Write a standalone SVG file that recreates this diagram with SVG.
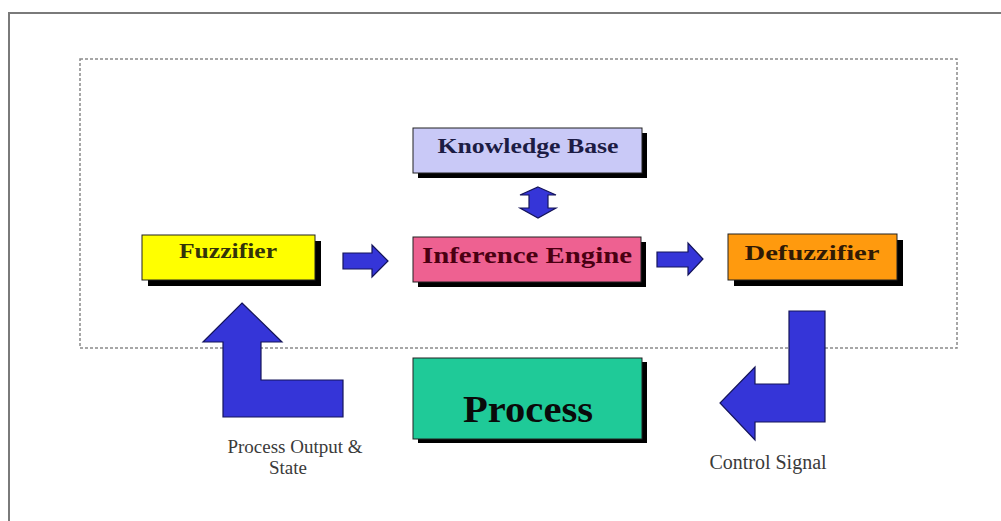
<svg xmlns="http://www.w3.org/2000/svg" width="1001" height="521" viewBox="0 0 1001 521">
<style>
.shadow{fill:#000}
.box{stroke:#222;stroke-width:1}
.lbl{font-family:"Liberation Serif","Times New Roman",serif;font-weight:bold;text-anchor:middle}
.cap{font-family:"Liberation Serif","Times New Roman",serif;text-anchor:middle;fill:#3a3a3a}
.arrow{fill:#3535d8;stroke:#14145a;stroke-width:1.2;stroke-linejoin:miter}
</style>
<rect x="0" y="0" width="1001" height="521" fill="#fff"/>
<path d="M9,521 V13 H1001" fill="none" stroke="#7a7a7a" stroke-width="2"/>
<rect x="80" y="59" width="877" height="289" fill="none" stroke="#8a8a8a" stroke-width="1.5" stroke-dasharray="3,2"/>

<g id="knowledge-base">
<rect class="shadow" x="418" y="133" width="229" height="45"/>
<rect class="box" x="413" y="128" width="229" height="45" fill="#c9c9f7"/>
<text class="lbl" x="528" y="153" font-size="22" fill="#1c1c44" textLength="181" lengthAdjust="spacingAndGlyphs">Knowledge Base</text>
</g>

<g id="inference-engine">
<rect class="shadow" x="418" y="242" width="228" height="45"/>
<rect class="box" x="413" y="237" width="228" height="45" fill="#ee6191"/>
<text class="lbl" x="527" y="263" font-size="23" fill="#4a0012" textLength="210" lengthAdjust="spacingAndGlyphs">Inference Engine</text>
</g>

<g id="fuzzifier">
<rect class="shadow" x="148" y="241" width="173" height="45"/>
<rect class="box" x="142" y="235" width="173" height="45" fill="#ffff00"/>
<text class="lbl" x="228" y="258" font-size="20" fill="#33330a" textLength="98" lengthAdjust="spacingAndGlyphs">Fuzzifier</text>
</g>

<g id="defuzzifier">
<rect class="shadow" x="734" y="240" width="169" height="46"/>
<rect class="box" x="728" y="234" width="169" height="46" fill="#ff9a0e"/>
<text class="lbl" x="812" y="260" font-size="22" fill="#301a05" textLength="135" lengthAdjust="spacingAndGlyphs">Defuzzifier</text>
</g>

<g id="process">
<rect class="shadow" x="418" y="362" width="229" height="81"/>
<rect class="box" x="413" y="358" width="229" height="81" fill="#1fca98"/>
<text class="lbl" x="528" y="422" font-size="37" fill="#0a0a0a" textLength="130" lengthAdjust="spacingAndGlyphs">Process</text>
</g>

<g id="connectors">
<polygon class="arrow" points="538,187 556,195 548,195 548,208 556,208 538,218 520,208 529,208 529,195 520,195"/>
<polygon class="arrow" points="343,253 372,253 372,245 388,261 372,277 372,269 343,269"/>
<polygon class="arrow" points="657,252 688,252 688,243 703,259 688,275 688,267 657,267"/>
<polygon class="arrow" points="789,311 825,311 825,422 755,422 755,440 720,403 755,367 755,384 789,384"/>
<polygon class="arrow" points="242,303 282,342 261,342 261,380 343,380 343,417 223,417 223,342 203,342"/>
</g>

<g id="labels">
<text class="cap" x="295" y="453" font-size="19">Process Output &amp;</text>
<text class="cap" x="288" y="474" font-size="19">State</text>
<text class="cap" x="768" y="469" font-size="20">Control Signal</text>
</g>
</svg>
